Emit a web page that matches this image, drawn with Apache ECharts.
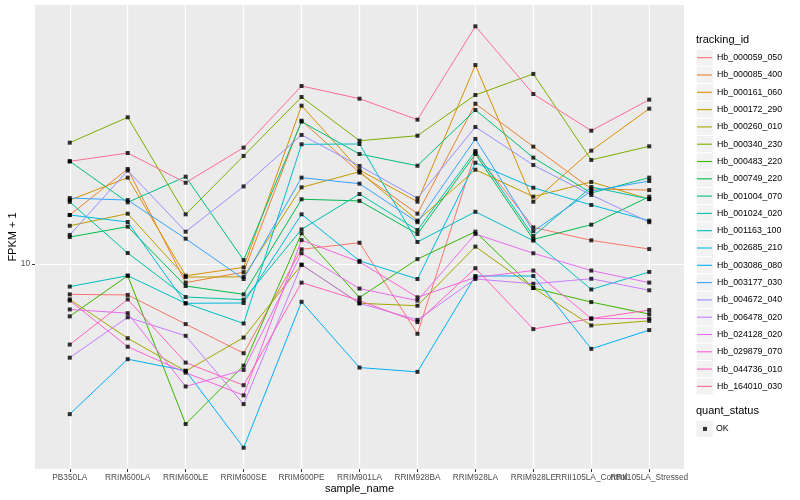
<!DOCTYPE html>
<html><head><meta charset="utf-8">
<script src="https://cdn.jsdelivr.net/npm/echarts@6/dist/echarts.min.js"></script>
<style>html,body{margin:0;padding:0;background:#fff}#c{width:800px;height:500px}</style>
</head><body><div id="c"></div>
<script>
// ---- data ----
const samples = ['PB350LA','RRIM600LA','RRIM600LE','RRIM600SE','RRIM600PE','RRIM901LA','RRIM928BA','RRIM928LA','RRIM928LE','RRII105LA_Control','RRII105LA_Stressed'];
const trackingIds = ['Hb_000059_050','Hb_000085_400','Hb_000161_060','Hb_000172_290','Hb_000260_010','Hb_000340_230','Hb_000483_220','Hb_000749_220','Hb_001004_070','Hb_001024_020','Hb_001163_100','Hb_002685_210','Hb_003086_080','Hb_003177_030','Hb_004672_040','Hb_006478_020','Hb_024128_020','Hb_029879_070','Hb_044736_010','Hb_164010_030'];
const yTickLabels = [10];

// FPKM + 1 per sample (order of samples)
const hb_000059_050 = [8.90, 8.88, 7.94, 7.10, 10.58, 10.85, 7.65, 15.33, 11.51, 10.95, 10.59];
const hb_000085_400 = [12.07, 14.40, 9.31, 9.69, 17.33, 14.20, 12.13, 18.50, 15.69, 13.34, 13.28];
const hb_000161_060 = [12.78, 13.93, 9.56, 9.87, 18.36, 14.34, 12.70, 21.46, 12.70, 15.45, 18.15];
const hb_000172_290 = [11.58, 12.13, 9.51, 9.52, 13.42, 14.25, 11.81, 14.36, 12.95, 13.70, 12.83];
const hb_000260_010 = [8.73, 7.52, 6.63, 7.54, 9.97, 8.60, 8.52, 10.69, 9.12, 7.90, 8.04];
const hb_000340_230 = [15.93, 17.56, 12.10, 15.14, 18.98, 16.05, 16.36, 19.13, 20.74, 14.91, 15.71];
const hb_000483_220 = [8.18, 9.56, 5.41, 6.77, 11.25, 8.79, 10.19, 11.32, 9.12, 8.64, 8.25];
const hb_000749_220 = [11.09, 11.54, 9.19, 8.90, 12.82, 12.74, 11.22, 15.25, 10.99, 11.63, 12.95];
const hb_001004_070 = [14.83, 12.67, 13.98, 10.15, 17.27, 15.25, 14.58, 18.06, 15.04, 13.13, 13.93];
const hb_001024_020 = [12.69, 10.43, 8.81, 8.72, 11.42, 13.08, 11.39, 15.43, 11.13, 13.44, 12.83];
const hb_001163_100 = [9.17, 9.56, 8.60, 7.96, 15.83, 15.85, 10.88, 12.22, 10.94, 9.07, 9.70];
const hb_002685_210 = [12.07, 11.75, 8.60, 8.61, 12.10, 10.12, 9.44, 14.75, 13.40, 12.54, 11.81];
const hb_003086_080 = [5.62, 6.94, 6.64, 4.94, 8.65, 6.72, 6.61, 9.55, 9.55, 7.22, 7.76];
const hb_003177_030 = [12.88, 12.78, 11.02, 9.44, 13.93, 13.61, 11.74, 16.16, 11.34, 13.23, 13.75];
const hb_004672_040 = [11.18, 14.31, 11.32, 13.47, 16.41, 14.57, 12.87, 16.92, 14.62, 13.03, 11.74];
const hb_006478_020 = [6.98, 8.15, 7.59, 5.84, 9.97, 8.60, 8.07, 9.44, 9.27, 9.45, 9.04];
const hb_024128_020 = [8.40, 8.28, 6.25, 6.66, 10.42, 9.10, 8.69, 11.22, 10.42, 9.75, 9.31];
const hb_029879_070 = [8.69, 7.28, 6.59, 6.04, 10.96, 10.08, 8.80, 9.50, 9.75, 8.11, 8.11];
const hb_044736_010 = [7.34, 8.73, 6.85, 6.28, 9.31, 8.69, 8.00, 9.84, 7.79, 8.11, 8.38];
const hb_164010_030 = [14.83, 15.31, 13.66, 15.63, 19.80, 18.86, 17.40, 24.90, 19.20, 16.68, 18.79];

const seriesValues = [hb_000059_050, hb_000085_400, hb_000161_060, hb_000172_290, hb_000260_010,
  hb_000340_230, hb_000483_220, hb_000749_220, hb_001004_070, hb_001024_020, hb_001163_100,
  hb_002685_210, hb_003086_080, hb_003177_030, hb_004672_040, hb_006478_020, hb_024128_020,
  hb_029879_070, hb_044736_010, hb_164010_030];

// ---- style ----
const colors = ['#F8766D','#EA8331','#D89000','#C09B00','#A3A500','#7CAE00','#39B600','#00BB4E','#00BF7D','#00C1A3','#00BFC4','#00BAE0','#00B0F6','#35A2FF','#9590FF','#C77CFF','#E76BF3','#FA62DB','#FF62BC','#FF6C91'];
const font = '"Liberation Sans", Arial, Helvetica, sans-serif';
const sampleIdx = samples.map((s, i) => i);
const evenIdx = sampleIdx.filter(i => i % 2 === 0);
const oddIdx = sampleIdx.filter(i => i % 2 === 1);

const lineSeries = trackingIds.map((id, k) => ({
  name: id, type: 'line', symbol: 'none', silent: true, z: 2,
  data: seriesValues[k].map((v, i) => [i, v]),
  lineStyle: { width: 1, color: colors[k] },
  itemStyle: { color: colors[k] }
}));
const pts = [];
seriesValues.forEach(arr => arr.forEach((v, i) => pts.push([i, v])));
const pointSeries = { name: 'OK', type: 'scatter', symbol: 'rect', symbolSize: 4, data: pts,
  itemStyle: { color: '#000' }, z: 3, silent: true };

const keyStep = 17.3, keyTop = 49.05;
const graphics = trackingIds.map((id, i) => ({
  type: 'rect', z: 0, silent: true,
  shape: { x: 696, y: keyTop + i * keyStep, width: 17.3, height: 17.3 },
  style: { fill: '#F2F2F2', stroke: '#fff', lineWidth: 1 }
}));
graphics.push({ type: 'rect', z: 0, silent: true, shape: { x: 696, y: 420.3, width: 17.3, height: 17.3 },
  style: { fill: '#F2F2F2', stroke: '#fff', lineWidth: 1 } });

const labelStyle = { fontSize: 8.3, color: '#4D4D4D', margin: 4.5, fontFamily: font, hideOverlap: false, showMinLabel: true, showMaxLabel: true };
function xAxisFor(labelIdx, withName) {
  const ax = {
    type: 'value', min: -0.6, max: 10.6, position: 'bottom', offset: 0,
    axisLine: { show: false, onZero: false },
    axisTick: { show: true, customValues: sampleIdx, length: 3, lineStyle: { color: '#333', width: 1 } },
    axisLabel: Object.assign({ customValues: labelIdx, formatter: v => samples[Math.round(v)] }, labelStyle),
    splitLine: { show: true, lineStyle: { color: '#fff', width: 1.2 } }
  };
  if (withName) Object.assign(ax, {
    name: 'sample_name', nameLocation: 'middle', nameGap: 14, nameMoveOverlap: false,
    nameTextStyle: { fontSize: 11, color: '#000', fontFamily: font }
  });
  return ax;
}

const chart = echarts.init(document.getElementById('c'), null, { renderer: 'canvas' });
chart.setOption({
  animation: false,
  backgroundColor: '#fff',
  title: [
    { text: 'tracking_id', left: 696, top: 34, padding: 0, textStyle: { fontSize: 11, fontWeight: 'normal', fontFamily: font, color: '#000' } },
    { text: 'quant_status', left: 696, top: 405, padding: 0, textStyle: { fontSize: 11, fontWeight: 'normal', fontFamily: font, color: '#000' } }
  ],
  graphic: graphics,
  legend: [
    { data: trackingIds.map(n => ({ name: n, icon: 'rect' })), orient: 'vertical', left: 697, top: keyTop, padding: 0,
      itemWidth: 15, itemHeight: 1.1, itemGap: 0, selectedMode: false, z: 5,
      textStyle: { fontSize: 8.8, fontFamily: font, color: '#000', lineHeight: 17.3, height: 17.3 } },
    { data: [{ name: 'OK', icon: 'rect' }], orient: 'vertical', left: 703, top: 420.3, padding: 0,
      itemWidth: 4, itemHeight: 4, selectedMode: false, z: 5,
      textStyle: { fontSize: 8.8, fontFamily: font, color: '#000', lineHeight: 17.3, height: 17.3, padding: [0, 0, 0, 4] } }
  ],
  grid: { left: 35, right: 116, top: 5, bottom: 31, show: true, backgroundColor: '#EBEBEB', borderWidth: 0, outerBoundsMode: 'none' },
  xAxis: [xAxisFor(evenIdx, true), xAxisFor(oddIdx, false)],
  yAxis: {
    type: 'log', logBase: 10, min: 4.553, max: 27.02,
    axisLine: { show: false, onZero: false },
    axisTick: { show: true, customValues: yTickLabels, length: 3, lineStyle: { color: '#333', width: 1 } },
    axisLabel: { customValues: yTickLabels, fontSize: 8.3, color: '#4D4D4D', margin: 5, fontFamily: font, showMinLabel: true, showMaxLabel: true },
    splitLine: { show: true, lineStyle: { color: '#fff', width: 1.2 } },
    name: 'FPKM + 1', nameLocation: 'middle', nameGap: 17, nameRotate: 90, nameMoveOverlap: false,
    nameTextStyle: { fontSize: 11, color: '#000', fontFamily: font }
  },
  series: lineSeries.concat([pointSeries])
});
</script></body></html>
